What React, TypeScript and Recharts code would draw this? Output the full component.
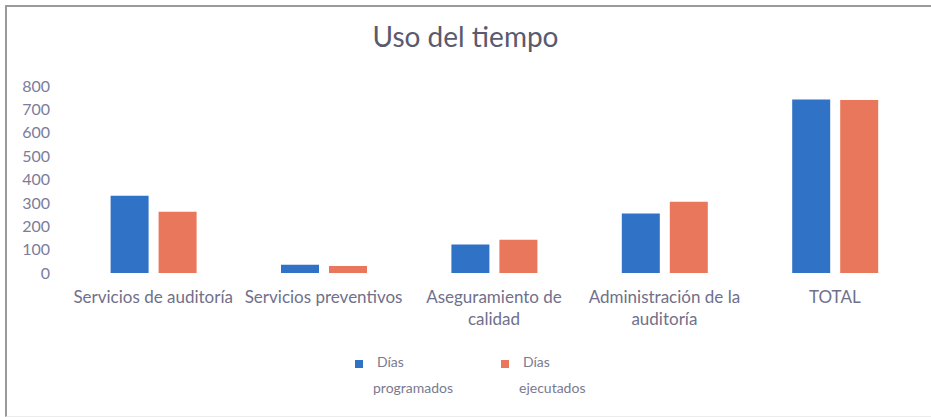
import { BarChart, Bar, XAxis, YAxis, Legend } from "recharts";

const categories = [
  "Servicios de auditoría",
  "Servicios preventivos",
  "Aseguramiento de calidad",
  "Administración de la auditoría",
  "TOTAL",
];
// how each category label breaks onto lines under the axis
const labelLines = [
  ["Servicios de auditoría"],
  ["Servicios preventivos"],
  ["Aseguramiento de", "calidad"],
  ["Administración de la", "auditoría"],
  ["TOTAL"],
];
const programados = [330, 35, 122, 255, 742];
const ejecutados = [262, 30, 142, 305, 740];
const yTicks = [0, 100, 200, 300, 400, 500, 600, 700, 800];

const BLUE = "#2F72C6";
const ORANGE = "#E9775B";
const FONT = "Lato, 'Open Sans', sans-serif";

const data = categories.map((name, i) => ({
  name,
  programados: programados[i],
  ejecutados: ejecutados[i],
}));

function CategoryTick(props: any) {
  const { x, y, payload } = props;
  const lines = labelLines[payload.index] ?? [payload.value];
  return (
    <text
      x={x}
      y={y}
      textAnchor="middle"
      fill="#70708a"
      fontSize={17}
      fontFamily={FONT}
    >
      {lines.map((l: string, i: number) => (
        <tspan key={i} x={x} dy={22}>
          {l}
        </tspan>
      ))}
    </text>
  );
}

function LegendBox() {
  const items = [
    { color: BLUE, lines: ["Días", "programados"] },
    { color: ORANGE, lines: ["Días", "ejecutados"] },
  ];
  return (
    <div style={{ display: "flex", paddingLeft: 355, height: 44, fontFamily: FONT }}>
      {items.map((it, i) => (
        <div key={i} style={{ display: "flex", width: 146, alignItems: "flex-start" }}>
          <span
            style={{
              display: "inline-block",
              width: 8,
              height: 8,
              background: it.color,
              marginTop: 7,
              marginRight: 10,
            }}
          />
          <div style={{ fontSize: 14, color: "#7a7a8e", lineHeight: "26px", marginTop: -4 }}>
            {it.lines.map((l, j) => (
              <div key={j} style={{ paddingLeft: j === 0 ? 4 : 0 }}>
                {l}
              </div>
            ))}
          </div>
        </div>
      ))}
    </div>
  );
}

export default function App() {
  return (
    <div
      style={{
        position: "absolute",
        left: 0,
        top: 0,
        width: 931,
        height: 417,
        background: "#fff",
        overflow: "hidden",
      }}
    >
      <div
        style={{
          position: "absolute",
          left: 5,
          top: 5,
          width: 940,
          height: 409,
          borderTop: "2px solid #9a9a9a",
          borderLeft: "2px solid #9a9a9a",
          borderBottom: "1px solid #ececec",
        }}
      />
      <div
        style={{
          position: "absolute",
          top: 19,
          width: 931,
          textAlign: "center",
          fontFamily: FONT,
          fontSize: 28,
          color: "#5a5a6e",
        }}
      >
        Uso del tiempo
      </div>
      <div style={{ position: "absolute", left: 0, top: 0 }}>
        <BarChart
          width={931}
          height={417}
          data={data}
          margin={{ top: 86, right: 11, left: 0, bottom: 20 }}
          barCategoryGap="25%"
          barGap={10}
        >
          <XAxis
            dataKey="name"
            axisLine={false}
            tickLine={false}
            interval={0}
            height={80}
            tick={<CategoryTick />}
          />
          <YAxis
            width={68}
            domain={[0, 800]}
            ticks={yTicks}
            axisLine={false}
            tickLine={false}
            tickMargin={12}
            tick={{ fill: "#7c7c9c", fontSize: 16, fontFamily: FONT }}
          />
          <Legend verticalAlign="bottom" content={<LegendBox />} />
          <Bar dataKey="programados" name="Días programados" fill={BLUE} isAnimationActive={false} />
          <Bar dataKey="ejecutados" name="Días ejecutados" fill={ORANGE} isAnimationActive={false} />
        </BarChart>
      </div>
    </div>
  );
}
